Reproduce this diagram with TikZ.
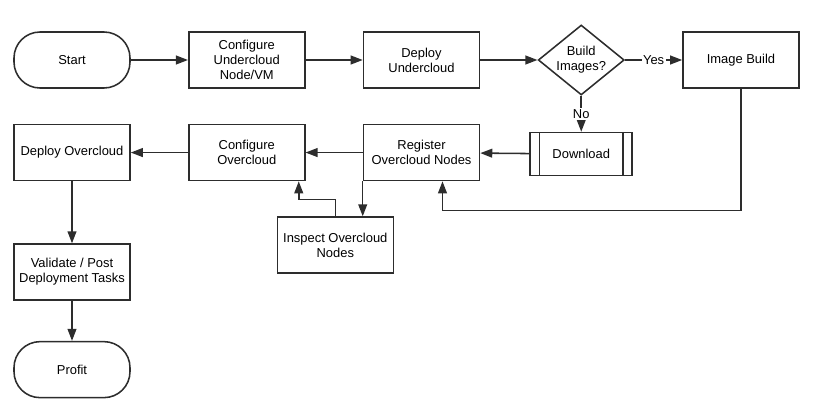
\documentclass[tikz,border=0pt]{standalone}
\usepackage{fontspec}
\setmainfont{Liberation Sans}
\usepackage{tikz}
\usetikzlibrary{arrows.meta,positioning,calc,shapes.geometric}
\definecolor{ink}{RGB}{45,45,45}
\tikzset{
  procbox/.style={draw=ink, line width=1.1pt, minimum width=29mm, minimum height=14mm,
    align=center, fill=white, font=\fontsize{9.2pt}{10.7pt}\selectfont, inner sep=1pt},
  termbox/.style={procbox, rounded corners=6.5mm},
  subbox/.style={procbox, minimum width=25.5mm, minimum height=10.75mm},
  decision/.style={diamond, draw=ink, line width=1.1pt, minimum width=21.5mm, minimum height=17.5mm,
    inner sep=0pt, aspect=1.25, align=center, fill=white, font=\fontsize{9.2pt}{10.7pt}\selectfont},
  flow/.style={-{Triangle[length=3mm, width=2.2mm]}, draw=ink, line width=1.1pt},
  edgelabel/.style={fill=white, inner sep=1pt, font=\fontsize{9.2pt}{10.7pt}\selectfont}
}
\begin{document}
\begin{tikzpicture}[node distance=8.75mm and 14.3mm]
\useasboundingbox (-1.8,1.5) rectangle (18.8,-8.95);
% top row
\node[termbox] (st) {Start};
\node[procbox, right=of st] (cu) {Configure\\Undercloud\\Node/VM};
\node[procbox, right=of cu] (du) {Deploy\\Undercloud};
\node[decision, right=of du] (bi) {Build\\Images?};
\node[procbox, right=of bi] (ib) {Image Build};
% second row
\node[subbox, below=9mm of bi] (dl) {Download};
\node[procbox, below=of du] (rg) {Register\\Overcloud Nodes};
\node[procbox, below=of cu] (co) {Configure\\Overcloud};
\node[procbox, below=of st] (do) {Deploy Overcloud};
\node[procbox, below right=8.75mm and -7.25mm of co] (in) {Inspect Overcloud\\Nodes};
\node[procbox, below=15.5mm of do] (va) {Validate / Post\\Deployment Tasks};
\node[termbox, below=10mm of va] (pr) {Profit};

\draw[draw=ink, line width=1.1pt] ([xshift=2.5mm]dl.north west) -- ([xshift=2.5mm]dl.south west);
\draw[draw=ink, line width=1.1pt] ([xshift=-2.5mm]dl.north east) -- ([xshift=-2.5mm]dl.south east);

\draw[flow] (st) -- (cu);
\draw[flow] (cu) -- (du);
\draw[flow] (du) -- (bi);
\draw[flow] (bi) -- node[edgelabel] {Yes} (ib);
\draw[flow] (bi) -- node[edgelabel] {No} (dl);
\draw[flow] (dl) -- (rg);
\draw[flow] (ib.south) |- ($(rg.south)+(5.25mm,-7.25mm)$) -- ([xshift=5.25mm]rg.south);
\draw[flow] (rg) -- (co);
\draw[flow] (rg.south west) -- (rg.south west |- in.north);
\draw[flow] (in.north) |- ($(co.south)+(13mm,-4.5mm)$) -- ([xshift=13mm]co.south);
\draw[flow] (co) -- (do);
\draw[flow] (do) -- (va);
\draw[flow] (va) -- (pr);
\end{tikzpicture}
\end{document}
